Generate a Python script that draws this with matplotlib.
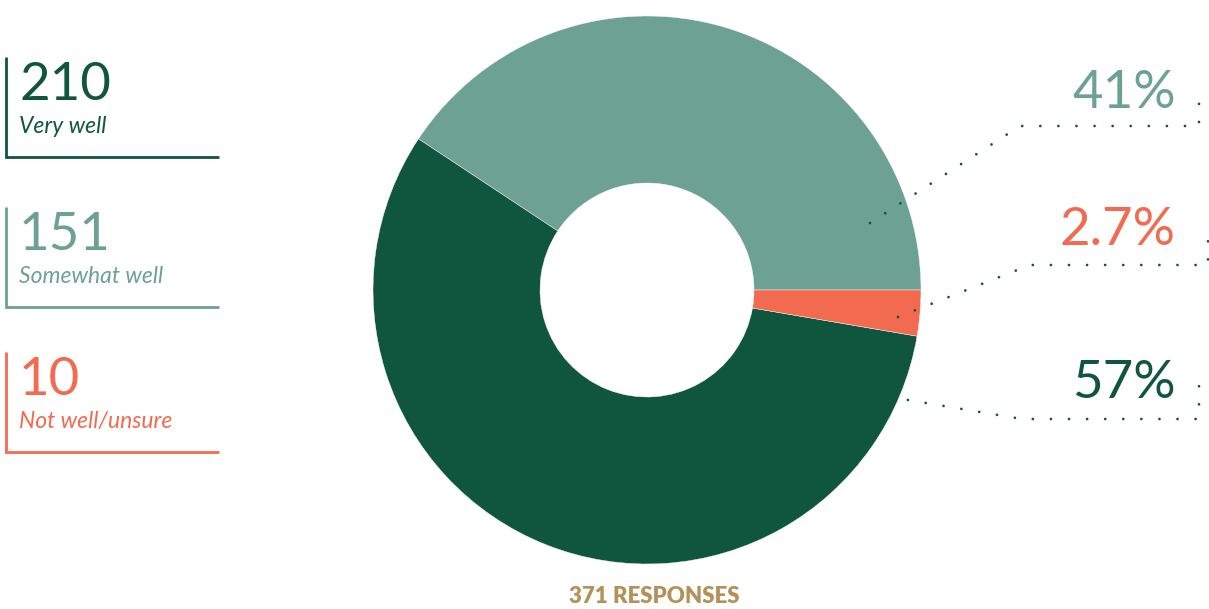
import matplotlib
matplotlib.use("Agg")
import matplotlib.pyplot as plt

# ---- data ----
categories = ["Very well", "Somewhat well", "Not well/unsure"]
counts = [210, 151, 10]
pct_labels = ["57%", "41%", "2.7%"]
total_label = "371 RESPONSES"

DARK = "#10563F"
LIGHT = "#6DA194"
ORANGE = "#F26B50"
GOLD = "#B3925A"
colors = [DARK, LIGHT, ORANGE]

W, H = 1209, 609
fig = plt.figure(figsize=(W / 100, H / 100), dpi=100)
ax = fig.add_axes([0, 0, 1, 1])

def Y(y):
    return H - y

# donut: order light (from 0deg ccw), dark, orange
order = [1, 0, 2]
cx, cy, R, r_in = 647, 290, 274, 107
ax.pie([counts[i] for i in order], colors=[colors[i] for i in order],
       startangle=0, counterclock=True, center=(cx, Y(cy)), radius=R,
       wedgeprops=dict(width=R - r_in, edgecolor="white", linewidth=0.3),
       frame=True)
ax.set_xlim(0, W)
ax.set_ylim(0, H)
ax.set_aspect("equal")
ax.axis("off")

num_font = "Lato"

# legend blocks on the left
legend_tops = [57, 207, 352]
for i, top in enumerate(legend_tops):
    c = colors[i]
    ax.plot([6, 6, 219], [Y(top), Y(top + 100), Y(top + 100)], color=c,
            lw=2, solid_capstyle="butt", solid_joinstyle="miter")
    ax.text(19, Y(top + 43), str(counts[i]), color=c, fontsize=38,
            family=num_font, va="baseline", ha="left")
    ax.text(19, Y(top + 76), categories[i], color=c, fontsize=16.5,
            family=num_font, style="italic", va="baseline", ha="left")

# percentage labels with dotted leaders on the right
leaders = {
    1: dict(pts=[(870, 223), (1020, 126), (1199, 126), (1199, 88)], base=108),
    2: dict(pts=[(898, 317), (1030, 265), (1208, 265), (1208, 226)], base=245),
    0: dict(pts=[(890, 397), (1022, 419), (1199, 419), (1199, 380)], base=398),
}
for i, d in leaders.items():
    xs = [p[0] for p in d["pts"]]
    ys = [Y(p[1]) for p in d["pts"]]
    ax.plot(xs, ys, color=DARK, lw=2.0, linestyle=(0, (0.01, 6.5)),
            dash_capstyle="round", solid_capstyle="round")
    ax.text(1176, Y(d["base"]), pct_labels[i], color=colors[i], fontsize=38,
            family=num_font, ha="right", va="baseline")

ax.text(654, Y(603), total_label, color=GOLD, fontsize=16, fontweight="heavy",
        family=num_font, ha="center", va="baseline")

fig.savefig("out.png", dpi=100)
